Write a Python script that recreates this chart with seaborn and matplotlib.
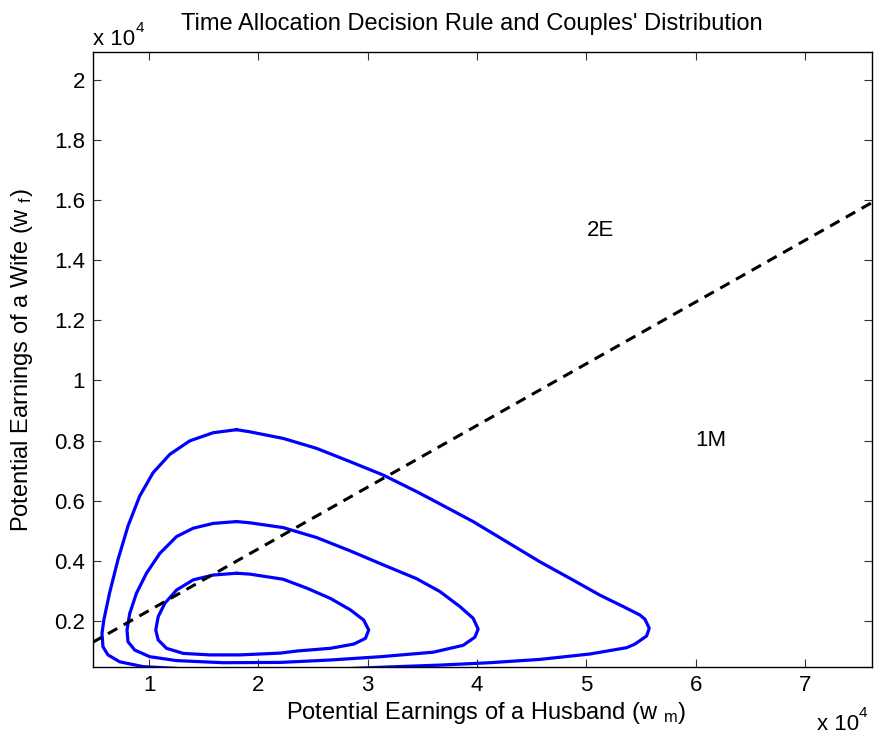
import numpy as np
import pandas as pd
import matplotlib
matplotlib.use("Agg")
import matplotlib.pyplot as plt
import seaborn as sns

# ---- data (earnings in units of 10^4) ----
outer_wm = [1.80, 1.587, 1.373, 1.19, 1.037, 0.914, 0.807, 0.716, 0.639, 0.587, 0.569, 0.578,
            0.624, 0.731, 0.945, 1.3, 2.0, 2.8, 3.2, 3.66, 4.117, 4.575, 5.032, 5.368, 5.444,
            5.551, 5.575, 5.535, 5.489, 5.337, 5.124, 4.879, 4.575, 4.27, 3.964, 3.66, 3.446,
            3.141, 2.836, 2.531, 2.226, 1.921, 1.80]
outer_wf = [0.836, 0.826, 0.799, 0.754, 0.693, 0.615, 0.515, 0.404, 0.293, 0.204, 0.158, 0.113,
            0.086, 0.063, 0.047, 0.040, 0.036, 0.040, 0.046, 0.052, 0.060, 0.071, 0.089, 0.110, 0.122,
            0.149, 0.175, 0.205, 0.219, 0.247, 0.285, 0.335, 0.396, 0.463, 0.530, 0.589, 0.630,
            0.685, 0.730, 0.774, 0.807, 0.829, 0.836]

middle_wm = [1.801, 1.587, 1.404, 1.251, 1.098, 0.976, 0.884, 0.823, 0.798, 0.807, 0.869, 1.006,
             1.251, 1.679, 2.201, 2.659, 3.116, 3.60, 3.873, 3.98, 4.01, 3.964, 3.843, 3.66,
             3.446, 3.141, 2.836, 2.531, 2.226, 1.921, 1.801]
middle_wf = [0.53, 0.524, 0.508, 0.48, 0.424, 0.358, 0.291, 0.224, 0.169, 0.13, 0.102, 0.08,
             0.067, 0.06, 0.061, 0.069, 0.08, 0.095, 0.118, 0.145, 0.172, 0.208, 0.247, 0.297,
             0.340, 0.386, 0.433, 0.477, 0.510, 0.526, 0.53]

inner_wm = [1.801, 1.587, 1.404, 1.251, 1.144, 1.083, 1.061, 1.083, 1.159, 1.312, 1.557, 1.832,
            2.2, 2.354, 2.659, 2.872, 2.979, 3.009, 2.963, 2.841, 2.659, 2.445, 2.226, 1.921, 1.801]
inner_wf = [0.358, 0.352, 0.336, 0.302, 0.258, 0.213, 0.169, 0.136, 0.108, 0.091, 0.086, 0.086,
            0.092, 0.099, 0.108, 0.122, 0.141, 0.169, 0.202, 0.236, 0.274, 0.308, 0.338, 0.355, 0.358]

rule_wm = [0.48, 7.61]
rule_wf = [0.127, 1.592]

region_labels = ["2E", "1M"]
region_wm = [5.0, 6.0]
region_wf = [1.5, 0.8]

x_ticks = [1, 2, 3, 4, 5, 6, 7]
x_ticklabels = ["1", "2", "3", "4", "5", "6", "7"]
y_ticks = [0.2, 0.4, 0.6, 0.8, 1.0, 1.2, 1.4, 1.6, 1.8, 2.0]
y_ticklabels = ["0.2", "0.4", "0.6", "0.8", "1", "1.2", "1.4", "1.6", "1.8", "2"]

rows = []
for name, xs, ys in [("outer", outer_wm, outer_wf), ("middle", middle_wm, middle_wf),
                     ("inner", inner_wm, inner_wf)]:
    for i, (a, b) in enumerate(zip(xs, ys)):
        rows.append({"level": name, "order": i, "wm": a, "wf": b})
contours = pd.DataFrame(rows)

# ---- style ----
sns.set_theme(style="white")
FONT = ["Liberation Sans", "DejaVu Sans"]
plt.rcParams["font.family"] = FONT
plt.rcParams["mathtext.fontset"] = "custom"
plt.rcParams["mathtext.rm"] = "Liberation Sans"
plt.rcParams["mathtext.it"] = "Liberation Sans"
plt.rcParams["text.color"] = "black"
FS = 16
FL = 17

fig = plt.figure(figsize=(8.76, 7.36), dpi=100)
ax = fig.add_axes([0.1058, 0.0933, 0.8893, 0.8357])

sns.lineplot(data=contours, x="wm", y="wf", units="level", estimator=None, sort=False,
             color="#0000ff", lw=2.3, ax=ax, legend=False)
for l in ax.lines:
    l.set_solid_joinstyle("round")
    l.set_solid_capstyle("round")

sns.lineplot(x=rule_wm, y=rule_wf, color="black", lw=2.2, ax=ax, sort=False,
             estimator=None)
ax.lines[-1].set_dashes([3.5, 2.4])

for lab, a, b in zip(region_labels, region_wm, region_wf):
    ax.text(a, b, lab, fontsize=FS, ha="left", va="center", color="black")

ax.set_xlim(0.484, 7.61)
ax.set_ylim(0.0446, 2.093)
ax.set_xticks(x_ticks)
ax.set_xticklabels(x_ticklabels)
ax.set_yticks(y_ticks)
ax.set_yticklabels(y_ticklabels)
ax.tick_params(direction="in", length=5.5, width=0.8, color="#333333", labelsize=FS,
               labelcolor="black", top=True, right=True, bottom=True, left=True, pad=5.5)
for s in ax.spines.values():
    s.set_visible(True)
    s.set_color("black")
    s.set_linewidth(1.0)
ax.set_xlabel("")
ax.set_ylabel("")

fig.text(0.539, 1 - 24 / 736, "Time Allocation Decision Rule and Couples' Distribution",
         fontsize=FL, ha="center", va="center")
fig.text(0.555, 0.031, "Potential Earnings of a Husband (w $_{\\mathrm{m}}$)",
         fontsize=FL, ha="center", va="center")
fig.text(0.025, 0.511, "Potential Earnings of a Wife (w $_{\\mathrm{f}}$)",
         fontsize=FL, ha="center", va="center", rotation=90)
# multiplier labels
fig.text(93 / 876, 1 - 45 / 736, "x 10", fontsize=FS, ha="left", va="baseline")
fig.text(136 / 876, 1 - 32 / 736, "4", fontsize=11, ha="left", va="baseline")
fig.text(817 / 876, 1 - 730 / 736, "x 10", fontsize=FS, ha="left", va="baseline")
fig.text(859 / 876, 1 - 717 / 736, "4", fontsize=11, ha="left", va="baseline")

fig.savefig("out.png", dpi=100)
